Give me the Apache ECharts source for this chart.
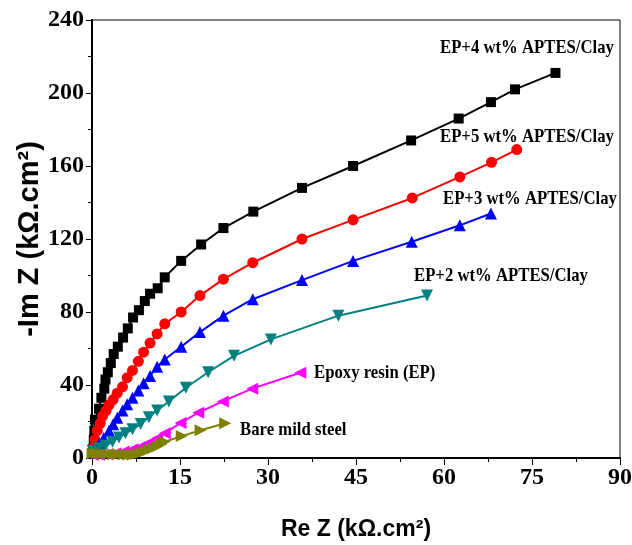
<!DOCTYPE html>
<html>
<head>
<meta charset="utf-8">
<script src="https://cdn.jsdelivr.net/npm/echarts@6/dist/echarts.min.js"></script>
<style>
  html, body { margin: 0; padding: 0; background: #fff; }
  #chart { width: 632px; height: 545px; }
</style>
</head>
<body>
<div id="chart"></div>
<script>
// Nyquist plots: Re Z vs -Im Z (kΩ.cm²) for each coating
const xTicks = [0, 15, 30, 45, 60, 75, 90];
const yTicks = [0, 40, 80, 120, 160, 200, 240];

const ep4X = [0.2, 0.3, 0.4, 0.5, 1.2, 1.6, 2.1, 2.3, 2.7, 3.2, 3.7, 4.4, 5.3, 6.1, 7.0, 8.0, 9.0, 9.9, 11.2, 12.4, 15.2, 18.6, 22.4, 27.5, 35.8, 44.5, 54.4, 62.5, 68.0, 72.1, 79.0];
const ep4Y = [5, 10, 15, 21, 27, 33, 38, 43, 47, 52, 57, 61, 66, 71, 77, 81, 86, 90, 93, 99, 108, 117, 126, 135, 148, 160, 174, 186, 195, 202, 211];

const ep5X = [0.1, 0.3, 0.5, 0.9, 1.4, 1.8, 2.4, 2.9, 3.6, 4.3, 5.2, 6.0, 6.9, 7.9, 8.8, 9.9, 11.1, 12.4, 15.2, 18.4, 22.4, 27.4, 35.8, 44.5, 54.6, 62.7, 68.1, 72.4];
const ep5Y = [3, 6, 10, 15, 19, 23, 26, 29, 32, 35.5, 39, 44, 48, 53, 58, 63, 68, 73.5, 80, 89, 98, 107, 120, 130.5, 142.5, 154, 162, 169];

const ep3X = [0.2, 0.6, 1.2, 2.0, 2.9, 3.6, 4.3, 5.2, 6.0, 6.9, 7.9, 8.8, 9.9, 11.1, 12.4, 15.2, 18.4, 22.4, 27.4, 35.8, 44.5, 54.5, 62.7, 68.0];
const ep3Y = [3, 5, 7.7, 11, 15, 18.5, 22, 26, 29.5, 33, 37, 41, 45, 50, 54, 61, 69, 78, 87, 97.5, 108, 118.5, 127.5, 134];

const ep2X = [0.1, 1.2, 2.3, 3.5, 4.6, 5.7, 6.9, 8.3, 9.7, 11.1, 13.1, 16.0, 19.8, 24.2, 30.5, 42.0, 57.1];
const ep2Y = [4, 5.3, 6.8, 8.9, 11.3, 13.5, 15.7, 18.6, 22.3, 26, 31, 38.5, 47, 56, 65, 78, 89];

const epX = [0.1, 1.2, 2.6, 4.0, 5.4, 6.9, 8.3, 9.7, 11.1, 12.4, 15.1, 18.1, 22.3, 27.3, 35.5];
const epY = [1.6, 1.6, 2.0, 2.6, 3.5, 4.8, 6.2, 8.4, 10.8, 13.5, 19.2, 24.8, 31, 38, 46.7];

const steelX = [0.1, 0.9, 1.8, 2.7, 3.6, 4.5, 5.4, 6.2, 6.9, 7.6, 8.3, 9.0, 9.7, 10.4, 11.1, 11.8, 12.4, 15.3, 18.5, 22.7];
const steelY = [2.5, 2.4, 2.3, 2.2, 2.1, 2.0, 1.9, 1.8, 1.8, 2.2, 2.8, 3.6, 4.5, 5.3, 6.3, 7.5, 8.9, 12, 15.2, 19];

const seriesNames = [
  'EP+4 wt% APTES/Clay',
  'EP+5 wt% APTES/Clay',
  'EP+3 wt% APTES/Clay',
  'EP+2 wt% APTES/Clay',
  'Epoxy resin (EP)',
  'Bare mild steel'
];

const zip = (xs, ys) => xs.map((x, i) => [x, ys[i]]);

function lineSeries(name, xs, ys, color, symbol, size, rotate) {
  return {
    name: name,
    type: 'line',
    data: zip(xs, ys),
    symbol: symbol,
    symbolSize: size,
    symbolRotate: rotate || 0,
    showAllSymbol: true,
    lineStyle: { color: color, width: 2 },
    itemStyle: { color: color, borderWidth: 0 },
    emphasis: { disabled: true },
    animation: false
  };
}

const serif = '"Liberation Serif", "Times New Roman", serif';
const sans = '"Liberation Sans", Arial, sans-serif';

// Condensed bold serif caption placed beside each curve
function seriesLabel(text, x, y) {
  return {
    type: 'text',
    x: x,
    y: y,
    scaleX: 0.88,
    style: { text: text, font: 'bold 19px ' + serif, fill: '#000', textVerticalAlign: 'middle' }
  };
}

const chart = echarts.init(document.getElementById('chart'), null, { renderer: 'canvas' });
chart.setOption({
  animation: false,
  backgroundColor: '#fff',
  grid: {
    left: 92, right: 12, top: 20, bottom: 87,
    outerBoundsMode: 'none', containLabel: false,
    show: true, borderColor: '#000', borderWidth: 1
  },
  xAxis: {
    type: 'value',
    min: xTicks[0],
    max: xTicks[xTicks.length - 1],
    interval: xTicks[1] - xTicks[0],
    name: 'Re Z (kΩ.cm²)',
    nameLocation: 'middle',
    nameGap: 60,
    nameMoveOverlap: false,
    nameTextStyle: { fontFamily: sans, fontWeight: 'bold', fontSize: 23, color: '#000' },
    axisLine: { lineStyle: { color: '#000', width: 2 } },
    axisTick: { show: true, length: 7, inside: false, lineStyle: { color: '#000', width: 1 } },
    minorTick: { show: true, splitNumber: 2, length: 4, lineStyle: { color: '#000', width: 1 } },
    axisLabel: { fontFamily: serif, fontWeight: 'bold', fontSize: 24, color: '#000', margin: 8 },
    splitLine: { show: false }
  },
  yAxis: {
    type: 'value',
    min: yTicks[0],
    max: yTicks[yTicks.length - 1],
    interval: yTicks[1] - yTicks[0],
    name: '-Im Z (kΩ.cm²)',
    nameLocation: 'middle',
    nameGap: 48,
    nameRotate: 90,
    nameMoveOverlap: false,
    nameTextStyle: { fontFamily: sans, fontWeight: 'bold', fontSize: 29, color: '#000' },
    axisLine: { lineStyle: { color: '#000', width: 2 } },
    axisTick: { show: true, length: 6, inside: false, lineStyle: { color: '#000', width: 1 } },
    minorTick: { show: true, splitNumber: 2, length: 4, lineStyle: { color: '#000', width: 1 } },
    axisLabel: { fontFamily: serif, fontWeight: 'bold', fontSize: 24, color: '#000', margin: 8 },
    splitLine: { show: false }
  },
  series: [
    lineSeries(seriesNames[0], ep4X, ep4Y, '#000000', 'rect', 10),
    lineSeries(seriesNames[1], ep5X, ep5Y, '#ff0000', 'circle', 11),
    lineSeries(seriesNames[2], ep3X, ep3Y, '#0000ff', 'triangle', 12),
    lineSeries(seriesNames[3], ep2X, ep2Y, '#008080', 'triangle', 12, 180),
    lineSeries(seriesNames[4], epX, epY, '#ff00ff', 'triangle', 12, 90),
    lineSeries(seriesNames[5], steelX, steelY, '#808000', 'triangle', 12, -90)
  ],
  graphic: [
    seriesLabel(seriesNames[0], 440, 48),
    seriesLabel(seriesNames[1], 440, 137),
    seriesLabel(seriesNames[2], 443, 199),
    seriesLabel(seriesNames[3], 414, 276),
    seriesLabel(seriesNames[4], 314, 373),
    seriesLabel(seriesNames[5], 240, 430)
  ]
});
</script>
</body>
</html>
